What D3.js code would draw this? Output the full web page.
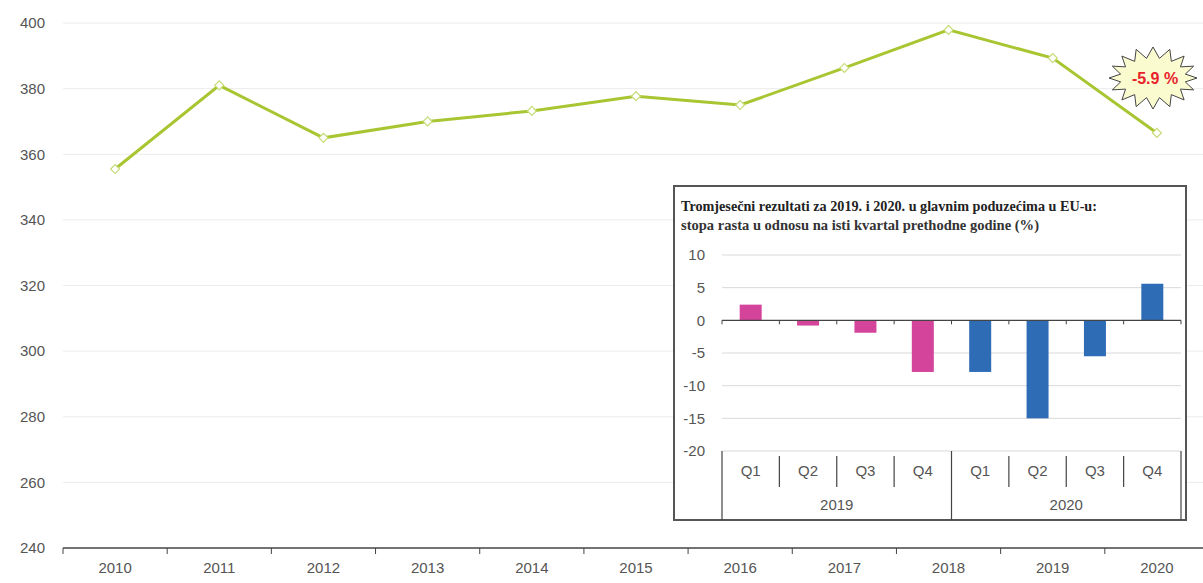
<!DOCTYPE html>
<meta charset="utf-8">
<style>
body { margin: 0; background: #fff; }
text { font-family: "Liberation Sans", Arial, sans-serif; }
.axis text { fill: #555; }
</style>
<svg width="1203" height="583"></svg>
<script src="https://d3js.org/d3.v7.min.js"></script>
<script>

// main series
var years = ["2010","2011","2012","2013","2014","2015","2016","2017","2018","2019","2020"],
    values = [355.5, 381, 365, 370, 373.2, 377.7, 375, 386.3, 397.9, 389.3, 366.5],
    yTicks = [240, 260, 280, 300, 320, 340, 360, 380, 400];

// inset: quarterly growth rates
var quarters = ["Q1","Q2","Q3","Q4","Q1","Q2","Q3","Q4"],
    qYears = ["2019","2019","2019","2019","2020","2020","2020","2020"],
    qValues = [2.4, -0.8, -1.9, -7.9, -7.9, -15.0, -5.5, 5.6],
    qTicks = [-20, -15, -10, -5, 0, 5, 10],
    qColors = {"2019": "#d4449a", "2020": "#2e6db6"};

var svg = d3.select("svg");

var x = d3.scaleBand().domain(years).range([63, 1209]),
    y = d3.scaleLinear().domain([240, 400]).range([548, 23]);

// gridlines
svg.append("g").selectAll("line")
    .data(yTicks.slice(1))
  .enter().append("line")
    .attr("x1", 63).attr("x2", 1203)
    .attr("y1", function(d) { return y(d); })
    .attr("y2", function(d) { return y(d); })
    .attr("stroke", "#ececec");

// y labels
svg.append("g").attr("class", "axis").selectAll("text")
    .data(yTicks)
  .enter().append("text")
    .attr("x", 45)
    .attr("y", function(d) { return y(d); })
    .attr("dy", "0.35em")
    .attr("text-anchor", "end")
    .style("font-size", "15px")
    .text(function(d) { return d; });

// x axis
var xAxis = svg.append("g").attr("class", "axis")
    .attr("transform", "translate(0,548)");
xAxis.append("line").attr("x1", 63).attr("x2", 1203).attr("stroke", "#444").attr("stroke-width", 1.5);
xAxis.selectAll(".tk")
    .data(years)
  .enter().append("line")
    .attr("x1", function(d) { return x(d); })
    .attr("x2", function(d) { return x(d); })
    .attr("y1", 0).attr("y2", 6)
    .attr("stroke", "#444");
xAxis.selectAll("text")
    .data(years)
  .enter().append("text")
    .attr("x", function(d) { return x(d) + x.bandwidth() / 2; })
    .attr("y", 25)
    .attr("text-anchor", "middle")
    .style("font-size", "15px")
    .text(function(d) { return d; });

// line
var line = d3.line()
    .x(function(d, i) { return x(years[i]) + x.bandwidth() / 2; })
    .y(function(d) { return y(d); });

svg.append("path")
    .datum(values)
    .attr("d", line)
    .attr("fill", "none")
    .attr("stroke", "#a8c532")
    .attr("stroke-width", 3);

// markers: small squares turned 45 degrees
svg.append("g").selectAll("path")
    .data(values)
  .enter().append("path")
    .attr("d", d3.symbol().type(d3.symbolSquare).size(40))
    .attr("transform", function(d, i) {
      return "translate(" + (x(years[i]) + x.bandwidth() / 2) + "," + y(d) + ") rotate(45)";
    })
    .attr("fill", "#fff")
    .attr("stroke", "#c6dc78")
    .attr("stroke-width", 1.2);

// starburst callout
var n = 16, cx = 1153, cy = 78,
    pts = d3.range(n * 2).map(function(i) {
      var a = i * Math.PI / n - Math.PI / 2,
          o = i % 2 == 0;
      return [cx + Math.cos(a) * (o ? 44 : 33), cy + Math.sin(a) * (o ? 31 : 20)];
    });
svg.append("path")
    .attr("d", d3.line()(pts) + "Z")
    .attr("fill", "#fbfbd0")
    .attr("stroke", "#444")
    .attr("stroke-width", 1);
svg.append("text")
    .attr("x", cx + 2).attr("y", cy + 6)
    .attr("text-anchor", "middle")
    .style("font-size", "16px")
    .style("font-weight", "bold")
    .attr("fill", "#e8222a")
    .text("-5.9 %");

// inset
var inset = svg.append("g");
inset.append("rect")
    .attr("x", 674).attr("y", 186)
    .attr("width", 512).attr("height", 334)
    .attr("fill", "#fff")
    .attr("stroke", "#555")
    .attr("stroke-width", 2);

inset.append("text")
    .attr("x", 681).attr("y", 211)
    .attr("textLength", 416)
    .attr("lengthAdjust", "spacingAndGlyphs")
    .style("font-family", "'Liberation Serif', 'DejaVu Serif', serif")
    .style("font-size", "14px")
    .style("font-weight", "bold")
    .attr("fill", "#222")
    .text("Tromjesečni rezultati za 2019. i 2020. u glavnim poduzećima u EU-u:");
inset.append("text")
    .attr("x", 681).attr("y", 230)
    .attr("textLength", 358)
    .attr("lengthAdjust", "spacingAndGlyphs")
    .style("font-family", "'Liberation Serif', 'DejaVu Serif', serif")
    .style("font-size", "14px")
    .style("font-weight", "bold")
    .attr("fill", "#333")
    .text("stopa rasta u odnosu na isti kvartal prethodne godine (%)");

var qx = d3.scaleBand().domain(d3.range(quarters.length)).range([722, 1181]),
    qy = d3.scaleLinear().domain([-20, 10]).range([451, 255]);

inset.append("g").selectAll("line")
    .data(qTicks.filter(function(d) { return d != 0; }))
  .enter().append("line")
    .attr("x1", 722).attr("x2", 1181)
    .attr("y1", function(d) { return qy(d); })
    .attr("y2", function(d) { return qy(d); })
    .attr("stroke", "#d9d9d9");

inset.append("g").attr("class", "axis").selectAll("text")
    .data(qTicks)
  .enter().append("text")
    .attr("x", 705)
    .attr("y", function(d) { return qy(d); })
    .attr("dy", "0.35em")
    .attr("text-anchor", "end")
    .style("font-size", "15px")
    .text(function(d) { return d; });

inset.append("g").selectAll("rect")
    .data(qValues)
  .enter().append("rect")
    .attr("x", function(d, i) { return qx(i) + qx.bandwidth() / 2 - 11; })
    .attr("width", 22)
    .attr("y", function(d) { return qy(Math.max(0, d)); })
    .attr("height", function(d) { return Math.abs(qy(d) - qy(0)); })
    .attr("fill", function(d, i) { return qColors[qYears[i]]; });

// zero axis with ticks
inset.append("line")
    .attr("x1", 722).attr("x2", 1181)
    .attr("y1", qy(0)).attr("y2", qy(0))
    .attr("stroke", "#444").attr("stroke-width", 1.2);
inset.append("g").selectAll("line")
    .data(d3.range(quarters.length + 1))
  .enter().append("line")
    .attr("x1", function(i) { return i < quarters.length ? qx(i) : 1181; })
    .attr("x2", function(i) { return i < quarters.length ? qx(i) : 1181; })
    .attr("y1", qy(0)).attr("y2", qy(0) + 4)
    .attr("stroke", "#444");

// category axis: quarters and years
inset.append("g").selectAll("line")
    .data(d3.range(1, quarters.length).filter(function(i) { return i != 4; }))
  .enter().append("line")
    .attr("x1", function(i) { return qx(i); })
    .attr("x2", function(i) { return qx(i); })
    .attr("y1", 456).attr("y2", 487)
    .attr("stroke", "#444").attr("stroke-width", 1.2);
inset.append("g").selectAll("line")
    .data([0, 4, 8])
  .enter().append("line")
    .attr("x1", function(i) { return i < 8 ? qx(i) : 1181; })
    .attr("x2", function(i) { return i < 8 ? qx(i) : 1181; })
    .attr("y1", 451).attr("y2", 520)
    .attr("stroke", "#444").attr("stroke-width", 1.2);

inset.append("g").attr("class", "axis").selectAll("text")
    .data(quarters)
  .enter().append("text")
    .attr("x", function(d, i) { return qx(i) + qx.bandwidth() / 2; })
    .attr("y", 476)
    .attr("text-anchor", "middle")
    .style("font-size", "15px")
    .text(function(d) { return d; });

var groups = ["2019", "2020"];
inset.append("g").attr("class", "axis").selectAll("text")
    .data(groups)
  .enter().append("text")
    .attr("x", function(d) {
      var idx = qYears.indexOf(d);
      return qx(idx) + qx.bandwidth() * 2;
    })
    .attr("y", 510)
    .attr("text-anchor", "middle")
    .style("font-size", "15px")
    .text(function(d) { return d; });

</script>
